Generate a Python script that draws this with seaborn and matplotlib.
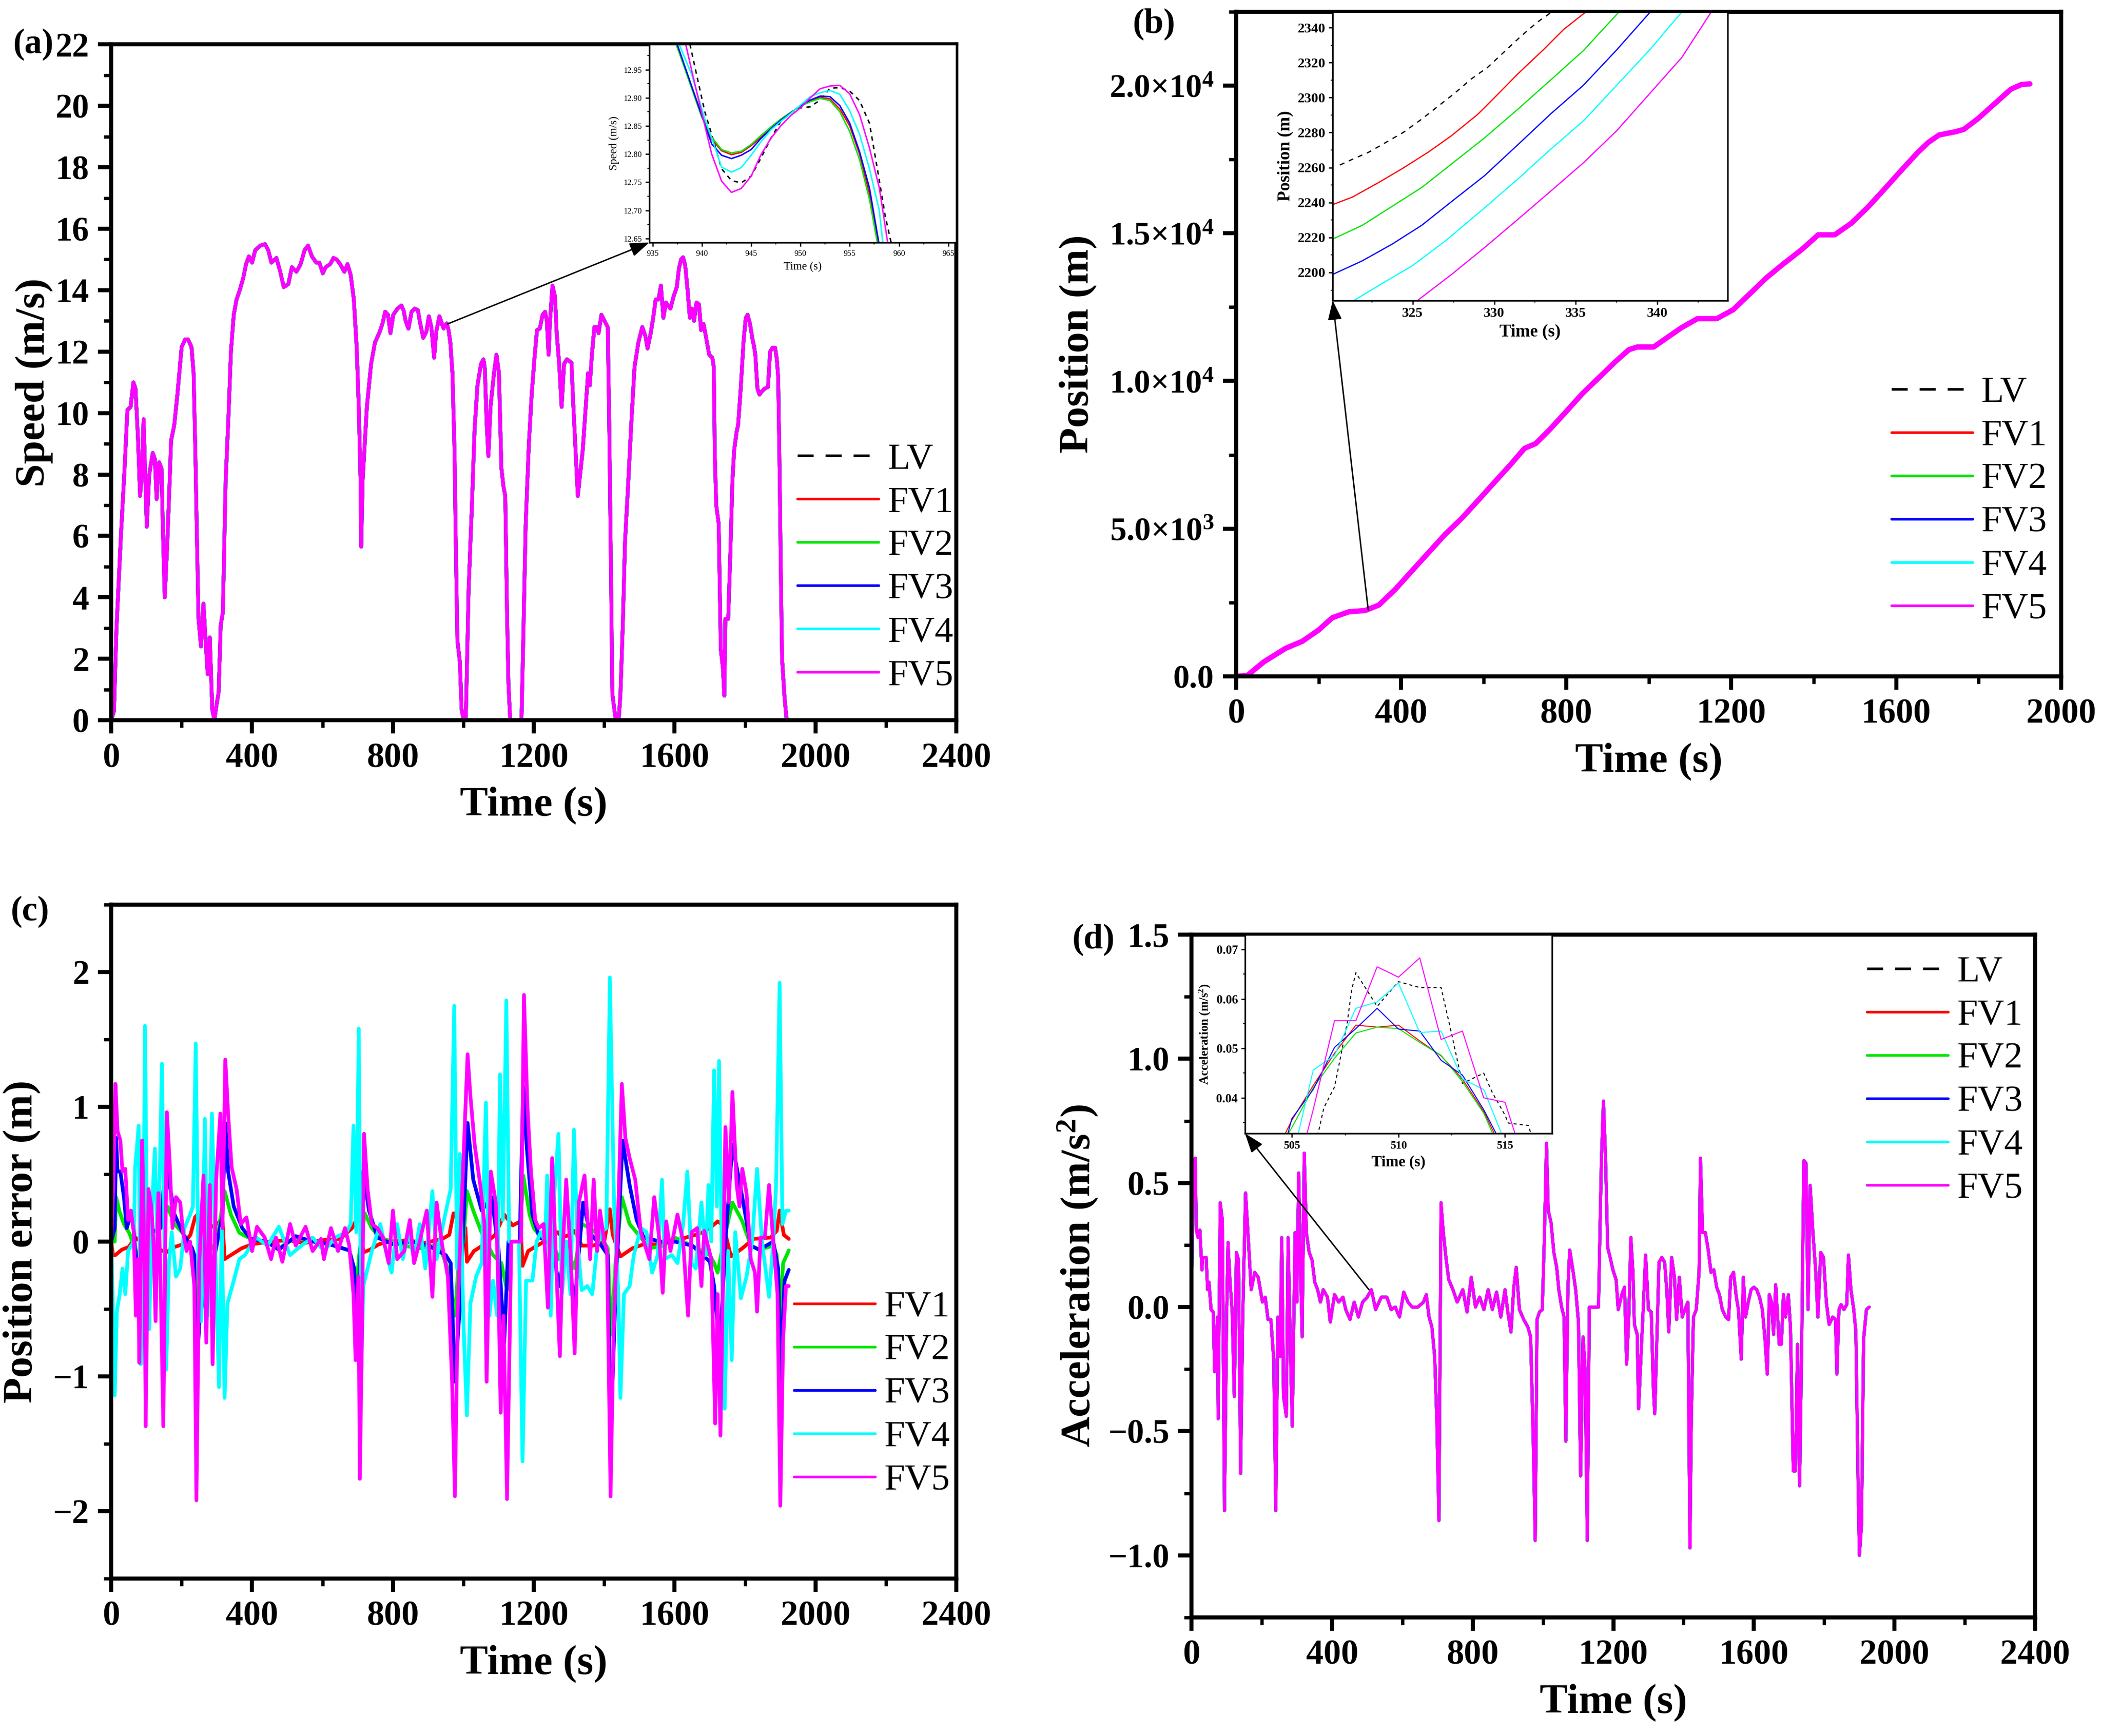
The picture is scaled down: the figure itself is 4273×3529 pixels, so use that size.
import numpy as np
import seaborn as sns
import matplotlib.pyplot as plt
from matplotlib.lines import Line2D
from matplotlib.patches import ConnectionPatch
from matplotlib.ticker import MultipleLocator, FormatStrFormatter

# -------------------------------
# data
# -------------------------------
vehicles = ["LV", "FV1", "FV2", "FV3", "FV4", "FV5"]
colors = ["black", "#FF0000", "#00E600", "#0000FF", "#00FFFF", "#FF00FF"]

# (a) speed profile (m/s)
speed_t = [0, 8, 15, 28, 38, 46, 55, 63, 69, 76,
           82, 87, 92, 97, 101, 108, 118, 124, 129, 136,
           143, 147, 152, 159, 166, 170, 179, 188, 200, 210,
           218, 228, 234, 239, 244, 248, 255, 262, 268, 274,
           280, 287, 293, 299, 305, 311, 317, 325, 333, 340,
           348, 356, 365, 375, 383, 391, 400, 409, 423, 437,
           446, 455, 469, 480, 490, 503, 513, 526, 538, 549,
           559, 570, 582, 591, 601, 609, 622, 631, 640, 650,
           662, 671, 680, 689, 697, 703, 708, 710, 714, 720,
           726, 738, 749, 761, 770, 778, 786, 793, 801, 813,
           824, 830, 836, 844, 853, 862, 871, 876, 886, 895,
           902, 909, 917, 923, 932, 940, 944, 948, 953, 958,
           963, 969, 975, 978, 983, 990, 995, 1001, 1007, 1015,
           1024, 1032, 1040, 1050, 1057, 1061, 1066, 1071, 1077, 1087,
           1094, 1101, 1108, 1114, 1119, 1124, 1128, 1133, 1165, 1170,
           1177, 1186, 1194, 1202, 1209, 1217, 1225, 1232, 1237, 1242,
           1246, 1253, 1260, 1265, 1272, 1279, 1286, 1294, 1307, 1312,
           1325, 1339, 1348, 1354, 1359, 1365, 1372, 1379, 1384, 1392,
           1401, 1410, 1414, 1419, 1423, 1432, 1441, 1446, 1453, 1459,
           1468, 1477, 1486, 1497, 1508, 1517, 1523, 1532, 1539, 1546,
           1554, 1561, 1568, 1575, 1588, 1597, 1606, 1612, 1618, 1624,
           1630, 1637, 1643, 1649, 1655, 1662, 1669, 1675, 1682, 1687,
           1698, 1707, 1711, 1714, 1718, 1725, 1731, 1737, 1741, 1744,
           1752, 1758, 1764, 1769, 1776, 1780, 1787, 1796, 1802, 1807,
           1814, 1821, 1825, 1829, 1835, 1841, 1847, 1856, 1865, 1871,
           1878, 1885, 1890, 1894, 1898, 1902, 1905, 1912, 1918]
speed_v = [0, 0.3, 3.0, 6.1, 8.2, 10.1, 10.2, 11.0, 10.8, 9.2,
           7.3, 8.0, 9.8, 7.8, 6.3, 8.0, 8.7, 8.5, 7.2, 8.4,
           8.2, 6.1, 4.0, 5.7, 7.8, 9.1, 9.6, 10.6, 12.15, 12.4,
           12.4, 12.15, 11.3, 8.7, 5.6, 3.3, 2.4, 3.8, 2.6, 1.5,
           2.7, 0.35, 0, 0.5, 0.9, 3.1, 3.5, 7.8, 9.9, 12.0,
           13.2, 13.7, 14.0, 14.4, 14.85, 15.1, 14.9, 15.3, 15.45, 15.5,
           15.3, 14.9, 15.05, 14.6, 14.1, 14.2, 14.75, 14.6, 14.85, 15.3,
           15.45, 15.1, 14.9, 14.9, 14.55, 14.75, 14.85, 15.05, 15.0, 14.85,
           14.6, 14.85, 14.5, 13.7, 12.15, 10.2, 7.8, 5.65, 7.8, 9.0,
           10.2, 11.6, 12.3, 12.6, 12.9, 13.3, 13.2, 12.6, 13.2, 13.4,
           13.5, 13.35, 13.0, 12.75, 13.3, 13.4, 13.35, 13.0, 12.45, 12.65,
           13.15, 12.8, 11.8, 12.65, 13.15, 12.87, 12.75, 12.86, 12.92, 12.7,
           12.3, 11.3, 8.7, 6.1, 2.6, 1.9, 0.35, 0, 0.1, 4.3,
           6.9, 9.5, 10.9, 11.6, 11.75, 11.45, 9.7, 8.6, 10.2, 11.3,
           11.9, 11.3, 8.2, 7.6, 7.3, 3.5, 1.2, 0, 0, 2.6,
           6.4, 9.0, 10.6, 11.8, 12.7, 12.75, 13.2, 13.3, 13.0, 11.9,
           13.0, 14.15, 13.8, 12.6, 11.6, 10.2, 11.6, 11.75, 11.64, 10.3,
           7.3, 8.8, 10.3, 11.3, 10.9, 11.9, 12.8, 12.8, 12.6, 13.2,
           13.0, 12.8, 9.8, 5.0, 0.86, 0.06, 0, 0.86, 3.2, 5.8,
           7.7, 9.7, 11.5, 12.3, 12.8, 12.5, 12.1, 12.6, 13.1, 13.7,
           13.7, 14.15, 13.1, 13.6, 13.4, 13.8, 14.1, 14.7, 15.0, 15.07,
           14.8, 13.97, 13.1, 13.4, 13.0, 13.6, 13.54, 12.7, 12.9, 12.6,
           11.9, 11.8, 11.5, 8.6, 7.0, 6.4, 2.3, 1.7, 0.8, 3.3,
           3.3, 5.4, 7.8, 8.8, 9.4, 9.6, 10.7, 12.4, 13.1, 13.2,
           12.9, 12.4, 12.2, 11.9, 10.8, 10.6, 10.7, 10.8, 10.85, 12.0,
           12.13, 12.13, 11.76, 11.15, 8.1, 4.4, 2.0, 0.74, 0]

# (a) inset, 935-965 s
zoom_speed_t = {
    "LV": [938.6, 940.3, 941, 942, 943, 944, 945, 946, 947, 948, 949.2, 950, 951, 952,
           953, 954, 955, 956, 957, 957.8, 958.6, 959.2],
    "FV1": [937.3, 940, 941, 942, 943, 944, 945, 946, 947, 948, 949, 950, 951, 952,
            953, 954, 955, 956, 957, 957.9],
    "FV2": [937.3, 940, 941, 942, 943, 944, 945, 946, 947, 948, 949, 950, 951, 952,
            953, 954, 955, 956, 957, 957.8],
    "FV3": [937.5, 940, 941, 942, 943, 944, 945, 946, 947, 948, 949, 950, 951, 952,
            953, 954, 955, 956, 957, 957.95],
    "FV4": [937.7, 939, 940.3, 941, 942, 943, 944, 945, 946, 947, 948, 949, 950, 951,
            952, 953, 954, 955, 956, 957, 958, 958.35],
    "FV5": [938.3, 939, 940, 941, 942, 943, 944, 945, 946, 947, 948, 949, 950, 951,
            952, 953, 954, 955, 956, 957, 958, 958.85],
}
zoom_speed_v = {
    "LV": [13.01, 12.875, 12.835, 12.774, 12.753, 12.749, 12.761, 12.793, 12.828, 12.858,
           12.875, 12.882, 12.884, 12.896, 12.917, 12.918, 12.912, 12.895, 12.855, 12.774,
           12.69, 12.643],
    "FV1": [13.0, 12.87, 12.826, 12.806, 12.799, 12.803, 12.815, 12.83, 12.845, 12.86,
            12.873, 12.886, 12.895, 12.901, 12.898, 12.88, 12.85, 12.80, 12.73, 12.643],
    "FV2": [13.0, 12.865, 12.83, 12.808, 12.802, 12.805, 12.817, 12.833, 12.848, 12.862,
            12.874, 12.885, 12.893, 12.899, 12.895, 12.875, 12.84, 12.79, 12.72, 12.643],
    "FV3": [12.995, 12.868, 12.818, 12.798, 12.792, 12.798, 12.808, 12.828, 12.845, 12.86,
            12.873, 12.886, 12.896, 12.903, 12.902, 12.886, 12.855, 12.804, 12.74, 12.643],
    "FV4": [12.995, 12.94, 12.862, 12.829, 12.777, 12.768, 12.776, 12.798, 12.822, 12.843,
            12.858, 12.872, 12.887, 12.902, 12.909, 12.913, 12.906, 12.877, 12.835, 12.774,
            12.7, 12.643],
    "FV5": [13.0, 12.946, 12.872, 12.80, 12.752, 12.732, 12.739, 12.761, 12.799, 12.828,
            12.85, 12.868, 12.882, 12.9, 12.916, 12.921, 12.922, 12.907, 12.87, 12.811,
            12.74, 12.643],
}

# (b) position (m)
pos_t = [0, 27, 67, 120, 160, 200, 233, 273, 313, 346,
         386, 426, 466, 506, 546, 586, 626, 666, 699, 726,
         759, 799, 839, 879, 919, 952, 972, 1012, 1039, 1079,
         1118, 1165, 1205, 1245, 1285, 1325, 1371, 1411, 1451, 1491,
         1531, 1571, 1611, 1651, 1678, 1704, 1744, 1764, 1798, 1838,
         1878, 1904, 1924]
pos_v = [0, 30, 490, 950, 1185, 1570, 1985, 2185, 2230, 2415,
         2950, 3570, 4185, 4800, 5340, 5950, 6570, 7185, 7720, 7880,
         8340, 8950, 9570, 10110, 10650, 11060, 11150, 11150, 11415, 11800,
         12110, 12110, 12415, 12950, 13490, 13950, 14450, 14950, 14950, 15340,
         15880, 16490, 17110, 17720, 18080, 18330, 18440, 18520, 18880, 19380,
         19880, 20040, 20060]
pos_ticks = [0, 5000, 10000, 15000, 20000]
pos_ticklabels = ["0.0", "5.0×10$^{3}$", "1.0×10$^{4}$", "1.5×10$^{4}$", "2.0×10$^{4}$"]

# (b) inset, 320-344 s
zoom_pos_t = {
    "LV": [320.54, 321.31, 322.32, 323.33, 324.45, 325.56, 326.57, 327.58, 328.59, 329.6,
           330.61, 331.62, 332.63, 333.54],
    "FV1": [320.1, 321.31, 322.93, 324.35, 325.96, 327.38, 328.99, 330.0, 331.42, 333.03,
            334.25, 335.62],
    "FV2": [320.1, 321.92, 323.74, 325.56, 327.38, 329.4, 331.42, 333.44, 335.46, 337.65],
    "FV3": [320.1, 321.92, 323.74, 325.56, 327.38, 329.4, 331.42, 333.44, 335.46, 337.48,
            339.57],
    "FV4": [321.4, 323.0, 325.0, 327.0, 329.4, 331.4, 333.4, 335.5, 337.5, 339.5, 341.5],
    "FV5": [325.3, 327.4, 329.4, 331.4, 333.4, 335.5, 337.5, 339.5, 341.5, 343.3],
}
zoom_pos_v = {
    "LV": [2261.4, 2264.7, 2268.8, 2274.2, 2280.2, 2287.7, 2295.1, 2302.5, 2310.6, 2317.3,
           2326.1, 2334.9, 2343.0, 2349.0],
    "FV1": [2238.8, 2243.1, 2251.5, 2259.3, 2268.8, 2278.2, 2290.4, 2299.8, 2313.3, 2327.5,
            2338.9, 2349.0],
    "FV2": [2219.1, 2227.0, 2237.8, 2248.6, 2262.0, 2276.9, 2293.1, 2309.9, 2326.8, 2349.0],
    "FV3": [2198.9, 2206.7, 2216.2, 2227.0, 2240.5, 2255.3, 2272.8, 2290.5, 2307.0, 2327.0,
            2349.0],
    "FV4": [2184.0, 2193.0, 2204.0, 2218.0, 2236.9, 2253.0, 2270.0, 2287.0, 2307.0, 2327.0,
            2349.0],
    "FV5": [2184.0, 2199.0, 2214.2, 2230.0, 2246.0, 2263.0, 2281.0, 2302.0, 2323.0, 2349.0],
}

# (c) position error (m)
err_t = {
    "FV1": [0, 5, 12, 30, 50, 68, 85, 108, 130, 156,
            180, 204, 225, 238, 245, 280, 316, 322, 340, 370,
            400, 450, 500, 550, 600, 650, 684, 700, 706, 716,
            735, 760, 790, 840, 890, 940, 960, 972, 990, 1006,
            1010, 1030, 1060, 1090, 1116, 1140, 1162, 1168, 1184, 1216,
            1250, 1268, 1282, 1300, 1316, 1336, 1368, 1400, 1416, 1424,
            1446, 1480, 1512, 1552, 1600, 1632, 1672, 1700, 1722, 1738,
            1760, 1792, 1824, 1872, 1890, 1898, 1910, 1924],
    "FV2": [0, 10, 14, 24, 36, 52, 68, 72, 84, 108,
            140, 160, 180, 204, 236, 240, 252, 284, 300, 322,
            340, 364, 396, 440, 476, 524, 572, 620, 676, 690,
            696, 704, 720, 740, 764, 828, 876, 930, 956, 976,
            988, 1000, 1010, 1028, 1052, 1084, 1108, 1124, 1136, 1160,
            1170, 1188, 1200, 1224, 1256, 1272, 1284, 1316, 1336, 1360,
            1392, 1410, 1420, 1432, 1450, 1472, 1504, 1528, 1568, 1600,
            1640, 1700, 1712, 1722, 1744, 1764, 1792, 1816, 1840, 1880,
            1890, 1896, 1908, 1924],
    "FV3": [0, 10, 14, 18, 26, 36, 44, 56, 64, 72,
            84, 108, 140, 156, 164, 180, 204, 230, 236, 240,
            252, 276, 292, 316, 324, 332, 348, 372, 396, 440,
            476, 524, 572, 620, 676, 690, 696, 704, 716, 732,
            756, 800, 850, 900, 950, 964, 976, 992, 1012, 1028,
            1052, 1080, 1100, 1116, 1128, 1160, 1170, 1180, 1196, 1216,
            1250, 1272, 1292, 1316, 1340, 1360, 1392, 1410, 1418, 1432,
            1452, 1472, 1492, 1512, 1560, 1600, 1650, 1700, 1712, 1728,
            1744, 1764, 1792, 1816, 1840, 1880, 1894, 1900, 1912, 1924],
    "FV4": [0, 4, 10, 16, 24, 32, 40, 48, 64, 68,
            78, 84, 90, 96, 102, 108, 116, 124, 132, 138,
            144, 150, 156, 164, 172, 184, 196, 208, 224, 232,
            240, 248, 256, 266, 274, 286, 294, 306, 314, 322,
            330, 348, 364, 380, 396, 412, 444, 476, 508, 540,
            572, 604, 636, 668, 680, 688, 696, 703, 710, 716,
            728, 740, 764, 780, 796, 812, 828, 844, 860, 876,
            892, 912, 924, 940, 964, 974, 982, 990, 1000, 1010,
            1020, 1036, 1052, 1064, 1074, 1084, 1096, 1104, 1112, 1122,
            1130, 1140, 1158, 1168, 1178, 1196, 1208, 1220, 1232, 1238,
            1248, 1256, 1270, 1280, 1292, 1304, 1314, 1324, 1336, 1352,
            1366, 1380, 1392, 1406, 1416, 1428, 1440, 1446, 1456, 1472,
            1484, 1504, 1520, 1536, 1552, 1564, 1572, 1592, 1608, 1624,
            1636, 1648, 1660, 1676, 1688, 1696, 1704, 1712, 1720, 1726,
            1734, 1742, 1752, 1762, 1772, 1788, 1804, 1820, 1834, 1848,
            1868, 1880, 1888, 1898, 1906, 1916, 1924],
    "FV5": [0, 6, 12, 18, 26, 32, 40, 48, 56, 64,
            70, 76, 80, 88, 94, 98, 106, 114, 120, 126,
            134, 140, 148, 158, 166, 174, 184, 196, 204, 214,
            224, 236, 242, 250, 262, 270, 280, 288, 298, 310,
            316, 324, 332, 342, 356, 368, 384, 400, 414, 436,
            454, 468, 486, 508, 524, 552, 572, 596, 604, 624,
            644, 664, 676, 688, 694, 702, 706, 712, 718, 728,
            740, 756, 772, 788, 800, 812, 832, 848, 860, 876,
            896, 912, 924, 940, 956, 968, 976, 984, 992, 1012,
            1020, 1032, 1048, 1060, 1066, 1078, 1092, 1100, 1106, 1114,
            1124, 1136, 1164, 1172, 1182, 1192, 1204, 1214, 1228, 1240,
            1252, 1262, 1274, 1282, 1292, 1304, 1316, 1328, 1344, 1360,
            1370, 1380, 1388, 1400, 1408, 1418, 1426, 1440, 1450, 1460,
            1472, 1488, 1504, 1528, 1542, 1556, 1566, 1576, 1588, 1608,
            1624, 1638, 1648, 1664, 1676, 1684, 1704, 1715, 1722, 1730,
            1744, 1754, 1764, 1776, 1784, 1792, 1804, 1816, 1828, 1834,
            1844, 1856, 1868, 1880, 1892, 1900, 1908, 1916, 1924],
}
err_v = {
    "FV1": [0, -0.1, -0.1, -0.06, -0.04, 0.03, 0.0, -0.03, -0.05, -0.08,
            -0.04, -0.02, 0.05, 0.18, 0.2, 0.1, 0.16, -0.13, -0.1, -0.05,
            -0.02, 0.0, 0.01, -0.01, 0.01, 0.02, 0.1, 0.18, 0.18, -0.08,
            -0.06, -0.02, 0.0, 0.01, -0.01, 0.02, 0.05, 0.21, 0.15, 0.1,
            -0.15, -0.07, -0.02, 0.05, 0.2, 0.12, 0.15, -0.18, -0.07, -0.02,
            0.03, 0.07, 0.03, 0.05, 0.08, -0.03, -0.03, 0.0, 0.24, 0.05,
            -0.11, -0.05, -0.02, -0.02, 0.0, 0.03, 0.06, 0.1, 0.15, 0.12,
            -0.11, -0.05, 0.02, 0.03, 0.08, 0.23, 0.05, 0.02],
    "FV2": [0, 0.0, 0.33, 0.22, 0.13, 0.06, -0.06, -0.16, 0.0, 0.06,
            0.1, 0.26, 0.13, 0.06, -0.1, -0.49, -0.29, -0.06, 0.0, 0.375,
            0.2, 0.065, 0.02, 0.0, -0.05, 0.03, 0.0, -0.02, -0.065, -0.2,
            -0.36, -0.1, 0.21, 0.1, 0.03, -0.03, -0.05, -0.02, -0.2, -0.55,
            -0.1, 0.0, 0.375, 0.23, 0.065, -0.1, -0.16, -0.36, 0.0, 0.0,
            0.49, 0.2, 0.1, 0.02, -0.03, -0.13, 0.0, -0.2, 0.13, 0.1,
            0.03, -0.05, -0.69, -0.16, 0.33, 0.13, 0.03, -0.05, -0.03, 0.03,
            -0.02, -0.1, -0.16, -0.23, 0.06, 0.29, 0.15, -0.03, -0.06, -0.03,
            -0.1, -0.64, -0.16, -0.065],
    "FV3": [0, 0.1, 0.77, 0.52, 0.52, 0.33, 0.1, 0.2, 0.15, -0.33,
            0.06, 0.06, 0.1, 0.62, 0.45, 0.2, 0.06, -0.05, -0.1, -1.04,
            -0.55, -0.23, -0.13, 0.2, 0.88, 0.52, 0.26, 0.1, 0.02, 0.0,
            -0.06, 0.04, 0.0, -0.02, -0.065, -0.2, -0.59, -0.3, 0.52, 0.23,
            0.03, -0.02, 0.0, -0.03, -0.1, -0.16, -1.04, -0.4, 0.88, 0.46,
            0.23, 0.33, -0.06, -0.75, 0.0, 0.0, 1.15, 0.7, 0.2, 0.03,
            0.0, -0.33, 0.0, -0.46, 0.29, 0.06, -0.03, -0.1, -1.47, -0.4,
            0.75, 0.42, 0.16, 0.03, 0.0, 0.0, -0.03, -0.15, -0.33, -0.82,
            0.0, 0.72, 0.33, -0.03, -0.06, 0.0, -0.2, -1.04, -0.29, -0.21],
    "FV4": [0, -0.39, -1.14, -0.52, -0.39, -0.2, -0.39, -0.07, 0.0, 0.55,
            0.86, -0.91, -0.39, 1.6, -0.07, -0.65, 0.26, 0.69, -0.13, 0.52,
            1.32, 0.26, -0.95, -0.16, 0.07, -0.26, -0.2, 0.1, 0.2, 0.26,
            1.47, -0.23, -0.59, 0.91, -0.55, 0.95, 0.1, -1.08, 0.1, -1.16,
            -0.46, -0.29, -0.13, -0.1, -0.03, 0.03, -0.03, 0.11, -0.1, -0.03,
            0.03, -0.07, 0.03, 0.07, 0.13, 0.86, 0.07, 1.58, -0.95, -0.33,
            -0.2, -0.07, 0.13, -0.07, -0.23, 0.13, -0.13, 0.07, -0.13, 0.13,
            -0.2, 0.375, -0.13, 0.1, 0.39, 1.75, -0.2, 0.65, -0.59, -1.29,
            -0.46, -0.26, -0.16, 1.03, -0.55, -0.29, -0.55, 1.24, 0.16, 1.79,
            0.0, 0.0, 0.0, -1.63, -0.29, -0.29, 0.0, 0.07, 0.0, 0.49,
            -0.55, 0.26, 0.8, -0.39, 0.0, -0.39, 0.83, 0.0, -0.36, -0.33,
            -0.39, -0.03, 0.07, 0.1, 1.96, 0.26, -0.39, -1.16, -0.39, -0.33,
            -0.1, 0.1, 0.07, -0.23, -0.1, 0.46, -0.13, -0.1, -0.16, 0.13,
            0.52, -0.16, -0.2, 0.29, -0.1, 0.42, 0.0, 1.27, 0.26, 1.34,
            -0.16, -1.24, -0.07, -0.88, 0.07, -0.42, -0.26, 0.0, 0.54, 0.0,
            -0.41, 0.0, 0.42, 1.92, 0.13, 0.23, 0.23],
    "FV5": [0, 0.42, 1.17, 0.82, 0.75, 0.52, 0.54, 0.16, 0.23, 0.07,
            -0.55, -0.13, -0.9, 0.75, -0.07, -1.37, 0.39, 0.26, 0.0, -0.59,
            0.36, -0.26, -1.37, 0.96, 0.59, 0.1, 0.33, 0.29, 0.07, -0.07,
            0.0, -0.33, -1.92, -0.16, 0.49, -0.75, 0.42, -0.91, 0.46, 0.95,
            0.1, 1.35, 0.95, 0.55, 0.39, 0.13, 0.18, -0.07, 0.11, 0.03,
            -0.13, 0.03, -0.15, 0.13, -0.03, 0.11, -0.07, 0.02, -0.13, 0.1,
            -0.07, 0.1, -0.03, -0.39, -0.88, -0.26, -1.76, -0.72, 0.8, 0.39,
            0.13, 0.1, 0.03, -0.16, 0.23, -0.13, -0.07, 0.16, -0.16, 0.0,
            0.23, -0.41, 0.29, -0.03, -0.26, -1.04, -1.89, -0.52, 0.07, 1.39,
            1.08, 0.72, 0.42, 0.13, -1.04, 0.52, 0.29, -0.39, -1.27, -0.55,
            -1.91, 0.0, 0.0, 1.83, 1.0, 0.52, 0.16, 0.1, 0.13, -0.49,
            0.62, -0.07, -0.85, -0.07, 0.46, -0.07, -0.83, 0.29, 0.49, -0.13,
            0.46, -0.07, 0.23, 0.0, -0.07, -1.89, -0.72, 0.26, 1.17, 0.77,
            0.62, 0.46, 0.07, -0.13, 0.33, 0.03, -0.38, 0.15, -0.07, 0.2,
            0.0, -0.55, 0.07, 0.1, -0.33, 0.08, -0.13, -1.35, -0.39, -1.44,
            0.85, 0.29, 1.11, 0.42, 0.26, 0.54, 0.36, -0.13, -0.23, -0.52,
            0.03, 0.03, 0.42, 0.0, -0.39, -1.96, -0.72, -0.33, -0.33],
}

# (d) acceleration (m/s^2)
acc_t = [0, 5, 11, 14, 19, 24, 30, 32, 42, 46,
         50, 56, 62, 66, 74, 76, 82, 88, 94, 100,
         104, 110, 116, 122, 128, 134, 140, 146, 154, 162,
         170, 180, 190, 202, 210, 218, 226, 234, 240, 246,
         252, 257, 262, 270, 275, 283, 287, 295, 300, 305,
         311, 315, 321, 327, 335, 343, 351, 359, 367, 375,
         387, 395, 407, 419, 431, 439, 451, 463, 475, 487,
         500, 512, 524, 540, 556, 568, 580, 592, 604, 616,
         628, 644, 660, 668, 676, 684, 692, 698, 704, 710,
         716, 724, 732, 744, 756, 772, 784, 796, 808, 820,
         832, 844, 856, 868, 880, 892, 900, 909, 917, 924,
         933, 945, 957, 965, 972, 978, 983, 990, 998, 1004,
         1010, 1015, 1023, 1031, 1039, 1045, 1053, 1060, 1065, 1071,
         1076, 1085, 1093, 1101, 1107, 1114, 1120, 1126, 1132, 1142,
         1158, 1166, 1172, 1178, 1184, 1191, 1199, 1208, 1214, 1224,
         1232, 1238, 1244, 1250, 1256, 1260, 1268, 1272, 1280, 1286,
         1292, 1300, 1308, 1314, 1318, 1324, 1330, 1338, 1346, 1352,
         1358, 1366, 1374, 1380, 1388, 1396, 1404, 1412, 1418, 1422,
         1428, 1436, 1444, 1448, 1454, 1462, 1470, 1478, 1486, 1494,
         1502, 1510, 1520, 1528, 1534, 1542, 1550, 1556, 1564, 1570,
         1576, 1584, 1592, 1600, 1608, 1616, 1624, 1632, 1638, 1644,
         1650, 1656, 1662, 1672, 1678, 1684, 1690, 1698, 1704, 1712,
         1718, 1724, 1730, 1736, 1742, 1748, 1754, 1760, 1768, 1776,
         1782, 1790, 1798, 1806, 1814, 1824, 1832, 1836, 1842, 1848,
         1856, 1864, 1869, 1876, 1884, 1890, 1896, 1900, 1906, 1912,
         1920, 1928]
acc_v = [0, 0.58, 0.6, 0.31, 0.28, 0.31, 0.15, 0.2, 0.2, 0.07,
         0.1, -0.01, -0.02, -0.26, -0.04, -0.45, 0.42, 0.35, -0.82, -0.05,
         0.26, 0.1, -0.02, -0.36, 0.22, 0.19, -0.67, -0.04, 0.46, 0.27,
         0.07, 0.14, 0.12, 0.02, 0.04, -0.05, -0.05, -0.21, -0.82, -0.04,
         -0.2, 0.28, -0.36, -0.44, 0.28, -0.25, -0.48, 0.3, 0.02, 0.54,
         0.12, -0.12, 0.62, 0.3, 0.22, 0.19, 0.1, 0.07, 0.02, 0.07,
         0.04, -0.06, 0.05, 0.02, 0.04, -0.01, -0.05, 0.02, -0.04, 0.02,
         0.04, 0.07, -0.01, 0.04, 0.04, -0.01, 0.0, -0.04, 0.06, 0.02,
         0.0, 0.0, 0.02, 0.05, -0.04, -0.08, -0.2, -0.45, -0.86, 0.42,
         0.31, 0.2, 0.11, 0.07, 0.02, 0.07, -0.02, 0.12, 0.0, 0.04,
         -0.01, 0.07, -0.01, 0.06, -0.04, 0.07, -0.02, -0.1, 0.08, 0.16,
         -0.01, -0.05, -0.08, -0.12, -0.52, -0.94, -0.05, -0.02, -0.01, 0.28,
         0.66, 0.39, 0.34, 0.22, 0.16, 0.07, 0.0, -0.04, -0.54, 0.08,
         0.23, 0.15, 0.07, -0.06, -0.68, -0.12, -0.25, -0.94, 0.0, 0.0,
         0.0, 0.58, 0.83, 0.6, 0.24, 0.2, 0.15, 0.11, -0.01, 0.05,
         0.08, -0.23, -0.04, 0.28, 0.14, -0.07, -0.11, -0.41, -0.16, 0.02,
         0.21, -0.01, -0.02, -0.33, -0.43, -0.13, 0.18, 0.2, 0.18, 0.07,
         -0.1, 0.2, 0.12, -0.05, 0.12, -0.04, -0.01, 0.02, -0.97, -0.45,
         -0.04, -0.01, 0.14, 0.6, 0.3, 0.3, 0.23, 0.14, 0.15, 0.08,
         0.05, -0.01, -0.04, -0.05, 0.12, 0.14, 0.04, -0.01, -0.21, 0.12,
         -0.04, 0.02, 0.07, 0.08, 0.07, 0.04, -0.01, -0.14, -0.27, 0.05,
         0.02, -0.11, 0.09, -0.15, -0.15, 0.05, -0.04, 0.05, -0.08, -0.66,
         -0.66, -0.15, -0.72, -0.15, 0.59, 0.58, -0.01, 0.49, 0.3, 0.14,
         -0.04, 0.22, 0.2, 0.02, -0.07, -0.04, -0.05, -0.27, -0.01, 0.01,
         -0.01, 0.01, 0.21, 0.07, -0.01, -0.1, -0.68, -1.0, -0.88, -0.13,
         -0.01, 0.0]

# (d) inset, 503-517 s
zoom_acc_t = {
    "LV": [506.0, 506.25, 506.5, 507, 507.3, 507.6, 507.8, 508, 509, 510, 511, 512, 512.5,
           513, 514, 514.4, 515, 515.15, 516.1, 516.2, 516.5],
    "FV1": [504.6, 505, 506, 507, 508, 509, 510, 511, 512, 513, 514, 514.7],
    "FV2": [504.6, 505, 506, 507, 508, 509, 510, 511, 512, 513, 514, 514.6],
    "FV3": [504.7, 505, 506, 507, 508, 509, 510, 511, 512, 513, 514, 514.8],
    "FV4": [505.2, 506, 507, 508, 509, 510, 511, 512, 513, 514, 515],
    "FV5": [505.6, 506, 507, 508, 509, 510, 511, 512, 513, 514, 515, 515.6],
}
zoom_acc_v = {
    "LV": [0.030, 0.0332, 0.038, 0.0422, 0.0486, 0.0553, 0.0617, 0.0653, 0.0585, 0.0635,
           0.0623, 0.0623, 0.0528, 0.0429, 0.045, 0.0411, 0.0365, 0.0349, 0.0344, 0.033,
           0.030],
    "FV1": [0.032, 0.0355, 0.0425, 0.049, 0.0547, 0.0543, 0.0547, 0.0515, 0.0485, 0.0438,
            0.0372, 0.031],
    "FV2": [0.031, 0.034, 0.042, 0.048, 0.0531, 0.0543, 0.054, 0.0512, 0.0486, 0.0433,
            0.0369, 0.031],
    "FV3": [0.031, 0.0358, 0.0417, 0.0502, 0.054, 0.0581, 0.0539, 0.0535, 0.0476, 0.0446,
            0.0376, 0.031],
    "FV4": [0.031, 0.0456, 0.0486, 0.0581, 0.0594, 0.0632, 0.0532, 0.0535, 0.0438, 0.0417,
            0.031],
    "FV5": [0.031, 0.0376, 0.0556, 0.0556, 0.0665, 0.0644, 0.0683, 0.0518, 0.0535, 0.0400,
            0.0391, 0.031],
}

# -------------------------------
# style
# -------------------------------
sns.set_theme(style="ticks")
plt.rcParams["font.family"] = ["Liberation Serif", "DejaVu Serif"]
plt.rcParams.update({
    "font.weight": "bold",
    "axes.labelweight": "bold",
    "mathtext.fontset": "custom",
    "mathtext.rm": "Liberation Serif:bold",
    "mathtext.it": "Liberation Serif:bold",
    "mathtext.bf": "Liberation Serif:bold",
    "text.color": "black",
    "axes.labelcolor": "black",
    "axes.edgecolor": "black",
    "xtick.color": "black",
    "ytick.color": "black",
    "axes.facecolor": "white",
})
col = dict(zip(vehicles, colors))


def draw(ax, t, v, name, lw, dash=(6, 4.5)):
    assert len(t) == len(v), name
    ls = (0, dash) if name == "LV" else "-"
    sns.lineplot(x=np.asarray(t, float), y=np.asarray(v, float), ax=ax, color=col[name],
                 linewidth=lw, linestyle=ls, sort=False, estimator=None,
                 errorbar=None, legend=False)


def frame(ax, xlim, ylim, xmaj, ymaj, xsize=17, ysize=16.5, big=True):
    ax.set_xlim(xlim)
    ax.set_ylim(ylim)
    ax.xaxis.set_major_locator(MultipleLocator(xmaj))
    ax.xaxis.set_minor_locator(MultipleLocator(xmaj / 2))
    ax.yaxis.set_major_locator(MultipleLocator(ymaj))
    ax.yaxis.set_minor_locator(MultipleLocator(ymaj / 2))
    if big:
        ax.tick_params(which="major", direction="out", length=6.5, width=2.0, pad=4.3)
        ax.tick_params(which="minor", direction="out", length=3.5, width=1.6)
        lw = 2.0
    else:
        ax.tick_params(which="major", direction="out", length=2, width=0.6, pad=1.5)
        ax.tick_params(which="minor", direction="out", length=1, width=0.5)
        lw = 0.8
    ax.tick_params(axis="x", labelsize=xsize)
    ax.tick_params(axis="y", labelsize=ysize)
    for sp in ax.spines.values():
        sp.set_visible(True)
        sp.set_linewidth(lw)
        sp.set_color("black")
    ax.set_xlabel("")
    ax.set_ylabel("")


def legend(ax, names, anchor):
    handles = [Line2D([], [], color=col[n], lw=1.3,
                      ls=(0, (6, 4.5)) if n == "LV" else "-") for n in names]
    ax.legend(handles, names, loc="upper left", bbox_to_anchor=anchor, frameon=False,
              prop={"family": "Liberation Serif", "weight": "normal", "size": 18},
              handlelength=2.2, handletextpad=0.25, labelspacing=0.26,
              borderpad=0, borderaxespad=0)


def arrow(ax_from, xy, ins):
    con = ConnectionPatch(xyA=xy, coordsA=ax_from.transData, xyB=(0, 0),
                          coordsB=ins.transAxes,
                          arrowstyle="-|>,head_length=0.5,head_width=0.18",
                          mutation_scale=16, lw=0.7, color="black", zorder=20)
    fig.add_artist(con)


fig = plt.figure(figsize=(4273 / 300, 3529 / 300), dpi=300)
fig.patch.set_facecolor("white")

ax_a = fig.add_axes([0.0529, 0.5851, 0.4021, 0.3893])
ax_b = fig.add_axes([0.5881, 0.6104, 0.3925, 0.3828])
ax_c = fig.add_axes([0.0529, 0.0907, 0.4021, 0.3882])
ax_d = fig.add_axes([0.5668, 0.0683, 0.4014, 0.3933])

# -------------------------------
# (a) speed
# -------------------------------
for n in vehicles:
    draw(ax_a, speed_t, speed_v, n, 1.8)
frame(ax_a, (0, 2400), (0, 22), 400, 2)
ax_a.set_xlabel("Time (s)", fontsize=20.5, labelpad=6)
ax_a.set_ylabel("Speed (m/s)", fontsize=20.5, labelpad=1)
legend(ax_a, vehicles, (0.812, 0.411))

ins_a = fig.add_axes([0.3089, 0.8603, 0.1460, 0.1142])
for n in vehicles:
    draw(ins_a, zoom_speed_t[n], zoom_speed_v[n], n, 0.7, dash=(3, 3))
frame(ins_a, (934.67, 965.8), (12.643, 12.995), 5, 0.05, xsize=4, ysize=4, big=False)
ins_a.yaxis.set_major_formatter(FormatStrFormatter("%.2f"))
ins_a.xaxis.set_major_formatter(FormatStrFormatter("%d"))
for lab in ins_a.get_xticklabels() + ins_a.get_yticklabels():
    lab.set_fontweight("normal")
ins_a.set_xlabel("Time (s)", fontsize=5.5, fontweight="normal", labelpad=2)
ins_a.set_ylabel("Speed (m/s)", fontsize=5.5, fontweight="normal", labelpad=2)
arrow(ax_a, (955, 12.9), ins_a)

# -------------------------------
# (b) position
# -------------------------------
for n in vehicles:
    draw(ax_b, pos_t, pos_v, n, 2.6 if n == "FV5" else 1.2)
frame(ax_b, (0, 2000), (0, 22500), 400, 5000, ysize=16)
ax_b.set_yticks(pos_ticks)
ax_b.set_yticklabels(pos_ticklabels)
ax_b.set_xlabel("Time (s)", fontsize=20.5, labelpad=6)
ax_b.set_ylabel("Position (m)", fontsize=20.5, labelpad=6)
legend(ax_b, vehicles, (0.794, 0.452))

ins_b = fig.add_axes([0.6340, 0.8269, 0.1879, 0.1663])
for n in vehicles:
    draw(ins_b, zoom_pos_t[n], zoom_pos_v[n], n, 0.6, dash=(4, 4))
frame(ins_b, (320.1, 344.3), (2184, 2349), 5, 20, xsize=6.8, ysize=6.8, big=False)
ins_b.xaxis.set_major_formatter(FormatStrFormatter("%d"))
ins_b.set_xlabel("Time (s)", fontsize=8.5, labelpad=2)
ins_b.set_ylabel("Position (m)", fontsize=8.5, labelpad=2)
arrow(ax_b, (320, 2250), ins_b)

# -------------------------------
# (c) position error
# -------------------------------
for n in vehicles[1:]:
    draw(ax_c, err_t[n], err_v[n], n, 1.8)
frame(ax_c, (0, 2400), (-2.5, 2.5), 400, 1)
ax_c.set_xlabel("Time (s)", fontsize=20.5, labelpad=6)
ax_c.set_ylabel("Position error (m)", fontsize=20.5, labelpad=6)
legend(ax_c, vehicles[1:], (0.808, 0.4274))

# -------------------------------
# (d) acceleration
# -------------------------------
for n in vehicles:
    draw(ax_d, acc_t, acc_v, n, 1.5)
frame(ax_d, (0, 2400), (-1.25, 1.5), 400, 0.5)
ax_d.set_xlabel("Time (s)", fontsize=20.5, labelpad=6)
ax_d.set_ylabel("Acceleration (m/s$^{2}$)", fontsize=20.5, labelpad=4)
legend(ax_d, vehicles, (0.8006, 0.9695))

ins_d = fig.add_axes([0.5923, 0.3471, 0.1460, 0.1145])
for n in vehicles:
    draw(ins_d, zoom_acc_t[n], zoom_acc_v[n], n, 0.5, dash=(3, 3))
frame(ins_d, (502.8, 517.2), (0.0328, 0.073), 5, 0.01, xsize=5.5, ysize=6, big=False)
ins_d.xaxis.set_major_formatter(FormatStrFormatter("%d"))
ins_d.yaxis.set_major_formatter(FormatStrFormatter("%.2f"))
ins_d.set_xlabel("Time (s)", fontsize=7.5, labelpad=2)
ins_d.set_ylabel("Acceleration (m/s$^{2}$)", fontsize=6, labelpad=2)
arrow(ax_d, (505, 0.07), ins_d)

# panel letters
for txt, x, y in [("(a)", 0.0063, 0.9745), ("(b)", 0.539, 0.9861),
                  ("(c)", 0.0052, 0.4749), ("(d)", 0.5102, 0.4588)]:
    fig.text(x, y, txt, fontsize=17, fontweight="bold", ha="left", va="center")

fig.savefig("out.png", dpi=300, facecolor="white")
